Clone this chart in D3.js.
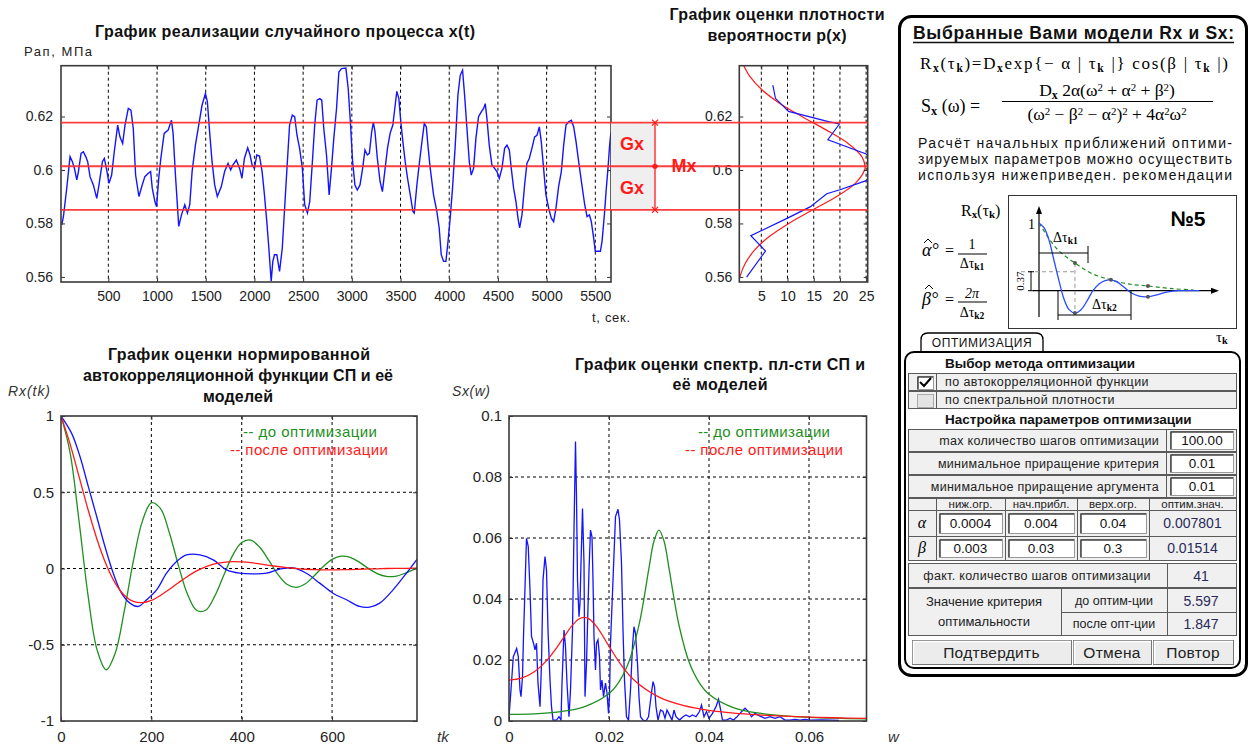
<!DOCTYPE html>
<html><head><meta charset="utf-8">
<script src="https://cdn.jsdelivr.net/npm/d3@7"></script>
<style>body{margin:0;background:#fff}svg{display:block}</style>
</head><body>
<svg id="c" width="1256" height="754"></svg>
<script>
// ================= DATA =================
// realization x(t)
const tsTime = [22,39,73,107,131,152,176,193,220,244,268,288,312,346,381,404,439,459,483,507,534,561,596,619,647,671,705,732,756,780,814,848,875,910,934,951,978,995,1019,1039,1073,1114,1148,1165,1189,1223,1251,1285,1312,1336,1360,1394,1428,1462,1497,1517,1541,1565,1592,1619,1660,1694,1729,1756,1780,1814,1848,1872,1897,1931,1955,1976,2000,2024,2052,2079,2103,2127,2148,2172,2189,2206,2230,2258,2286,2310,2334,2361,2389,2413,2437,2464,2492,2516,2544,2568,2595,2619,2643,2671,2691,2712,2740,2767,2791,2815,2843,2867,2894,2939,2963,2987,3008,3032,3056,3084,3111,3135,3159,3180,3204,3221,3238,3262,3290,3314,3342,3366,3393,3421,3445,3462,3483,3503,3524,3548,3572,3600,3627,3641,3668,3695,3720,3744,3765,3781,3805,3839,3873,3897,3918,3942,3966,3986,4010,4034,4062,4089,4113,4137,4158,4182,4206,4226,4250,4274,4301,4329,4353,4370,4387,4411,4438,4466,4490,4514,4541,4569,4593,4617,4637,4661,4685,4706,4723,4747,4774,4798,4822,4849,4877,4901,4925,4945,4969,4993,5021,5048,5072,5096,5123,5151,5175,5199,5226,5254,5278,5302,5329,5357,5391,5415,5439,5459,5483,5500,5528,5552,5569,5593,5613,5630,5647,5660];
const tsValue = [0.5795,0.5826,0.5932,0.605,0.6031,0.6006,0.5963,0.5994,0.6062,0.6068,0.605,0.6031,0.5975,0.5944,0.5894,0.5944,0.6031,0.6043,0.6,0.595,0.5981,0.6068,0.6168,0.6124,0.6099,0.6168,0.623,0.6224,0.6155,0.5981,0.5901,0.5944,0.5975,0.5988,0.5994,0.5932,0.5882,0.5863,0.5975,0.6043,0.6137,0.6149,0.6186,0.6137,0.5981,0.5789,0.5832,0.587,0.5839,0.587,0.5994,0.6093,0.6168,0.6242,0.6286,0.6255,0.6137,0.6031,0.5944,0.5901,0.5938,0.5994,0.6025,0.6,0.6019,0.6037,0.6006,0.5969,0.6043,0.6083,0.6056,0.6019,0.6006,0.6056,0.6052,0.5994,0.5907,0.5807,0.5708,0.5584,0.5658,0.5683,0.5683,0.5621,0.5708,0.5857,0.6006,0.6168,0.6205,0.6199,0.613,0.6081,0.6006,0.587,0.5839,0.5882,0.6031,0.6168,0.6261,0.6267,0.6261,0.6155,0.6056,0.5907,0.6006,0.6118,0.623,0.6366,0.6379,0.6381,0.6304,0.6168,0.6031,0.5944,0.5925,0.5944,0.6006,0.6075,0.6056,0.6062,0.6143,0.6178,0.6143,0.6043,0.5957,0.5919,0.6006,0.6081,0.6137,0.6168,0.6242,0.6294,0.6267,0.618,0.6106,0.6031,0.5969,0.5907,0.5845,0.5839,0.5944,0.6031,0.6106,0.6174,0.6161,0.6093,0.6006,0.5907,0.5845,0.5783,0.5683,0.5658,0.5658,0.5727,0.582,0.5932,0.6093,0.6279,0.6354,0.6373,0.6279,0.6155,0.6031,0.5981,0.6006,0.6118,0.6199,0.6217,0.623,0.6248,0.6193,0.6093,0.6019,0.6006,0.5994,0.5969,0.6006,0.6081,0.6093,0.6075,0.6006,0.5932,0.5882,0.582,0.5783,0.5832,0.5944,0.6025,0.6043,0.6081,0.6124,0.613,0.6161,0.6106,0.6006,0.5907,0.5857,0.582,0.5807,0.5857,0.5938,0.5994,0.6093,0.6168,0.618,0.6186,0.6161,0.6106,0.6031,0.5957,0.587,0.5826,0.5832,0.5807,0.5745,0.5696,0.5696,0.5696,0.5733,0.5832,0.5932,0.6006,0.6093,0.614];
const tsXTicks = [500,1000,1500,2000,2500,3000,3500,4000,4500,5000,5500];
const tsYTicks = [0.56,0.58,0.6,0.62];
const Mx = 0.6014, Gx = 0.0163;

// density p(x): empirical (blue) and model (red)
const densEmpLevel = [0.6317,0.6268,0.6219,0.6181,0.6172,0.6113,0.606,0.601,0.5960,0.5926,0.5911,0.5862,0.5818,0.5754,0.5697,0.5599];
const densEmpValue = [7.2,7.7,10.2,17.8,19.9,17.7,25.0,27.0,25.0,20.0,17.5,14.3,9.8,3.0,5.8,2.2];
const densModLevel = [0.556,0.560,0.565,0.570,0.575,0.580,0.585,0.590,0.595,0.600,0.6014,0.605,0.610,0.615,0.620,0.625,0.630,0.635,0.640];
const densModValue = [0.47,0.91,1.92,3.70,6.46,10.25,14.76,19.30,22.92,24.71,24.8,24.18,21.50,17.35,12.73,8.47,5.12,2.81,1.40];
const densXTicks = [5,10,15,20,25];

// autocorrelation
const acfEmpLag = [0,23.6,42,60.5,79,97.3,115.7,134,152.6,171,189.5,211.6,233.7,255.8,278,307.4,337,366.4,396,425.3,455,484.3,513.8,543,572.7,602,631.8,661,683.3,705.5,735,764.5,788];
const acfEmp = [1,0.886,0.734,0.537,0.341,0.144,-0.031,-0.162,-0.227,-0.249,-0.205,-0.140,-0.031,0.046,0.0895,0.0895,0.057,-0.009,-0.031,-0.035,-0.031,-0.004,0.004,-0.031,-0.096,-0.162,-0.205,-0.249,-0.253,-0.227,-0.140,-0.031,0.06];
const acfModLag = [0,20,40,60,80,100,120,140,160,180,200,220,240,260,280,300,320,340,360,380,400,420,440,460,480,500,520,540,560,580,600,620,640,660,680,700,720,740,760,780,788];
const acfBefore = [1,0.762,0.309,-0.179,-0.535,-0.664,-0.555,-0.280,0.046,0.309,0.431,0.394,0.233,0.019,-0.169,-0.274,-0.274,-0.183,-0.046,0.086,0.170,0.186,0.139,0.053,-0.038,-0.103,-0.124,-0.102,-0.049,0.012,0.060,0.081,0.073,0.042,0.001,-0.033,-0.052,-0.051,-0.033,-0.007,0.003];
const acfAfter = [1,0.817,0.602,0.385,0.189,0.026,-0.096,-0.175,-0.216,-0.224,-0.209,-0.177,-0.136,-0.093,-0.052,-0.016,0.011,0.030,0.040,0.045,0.043,0.038,0.030,0.021,0.013,0.006,0.000,-0.005,-0.007,-0.009,-0.009,-0.008,-0.007,-0.005,-0.003,-0.002,0.000,0.001,0.001,0.002,0.002];
const acfXTicks = [0,200,400,600];
const acfYTicks = [-1,-0.5,0,0.5,1];

// spectral density
const specW = [0,0.0004,0.00086,0.00153,0.00186,0.0022,0.0024,0.0027,0.0029,0.0035,0.00385,0.0042,0.0045,0.0049,0.0052,0.0055,0.0058,0.0062,0.0065,0.0068,0.0072,0.0075,0.0078,0.0082,0.0085,0.0088,0.0095,0.0100,0.0104,0.0106,0.011,0.0113,0.0116,0.012,0.0123,0.0127,0.013,0.0133,0.0135,0.0137,0.014,0.0142,0.0144,0.0147,0.015,0.0152,0.0155,0.016,0.0163,0.0166,0.0168,0.017,0.0173,0.0175,0.0178,0.0181,0.0183,0.0186,0.0189,0.0193,0.0196,0.0199,0.0201,0.0203,0.0208,0.0213,0.0218,0.0221,0.0225,0.0228,0.0231,0.0235,0.0239,0.0243,0.0247,0.025,0.0253,0.0257,0.026,0.0263,0.0268,0.0274,0.0279,0.0284,0.0288,0.0291,0.0294,0.0298,0.0303,0.0308,0.0312,0.0316,0.0321,0.0326,0.033,0.0334,0.0341,0.0348,0.0354,0.0361,0.0367,0.0374,0.0381,0.0385,0.039,0.0395,0.04,0.0407,0.0414,0.0419,0.0422,0.0427,0.0435,0.0442,0.0449,0.0455,0.0462,0.0472,0.0479,0.0485,0.0492,0.0502,0.0512,0.0522,0.0532,0.0542,0.0552,0.0562,0.0572,0.0582,0.0592,0.0602,0.0625,0.0645,0.066];
const specEmp = [0.0014,0.0102,0.0211,0.0238,0.0211,0.0102,0.008,0.0145,0.0277,0.0599,0.0572,0.043,0.0277,0.0255,0.0233,0.0255,0.0124,0.0047,0.0189,0.0462,0.0539,0.0495,0.0298,0.0134,0.0047,0.0003,0.0003,0.0014,0.0003,0.0124,0.0298,0.0244,0.0124,0.0014,0.0102,0.0298,0.0626,0.0916,0.0736,0.0462,0.0342,0.0386,0.0517,0.0697,0.0517,0.008,0.0189,0.0495,0.0626,0.0604,0.0462,0.0277,0.0167,0.0255,0.0266,0.0211,0.0102,0.0134,0.008,0.0124,0.0091,0.0025,0.008,0.0255,0.0462,0.067,0.0694,0.0659,0.0517,0.0298,0.0134,0.0014,0.0003,0.0102,0.0244,0.0309,0.0287,0.0189,0.008,0.0014,0.0003,0,0.0014,0.008,0.0129,0.0113,0.0047,0.0003,0.0036,0.0031,0.0009,0.0036,0.002,0.0003,0.0036,0.0014,0.0003,0.0014,0.002,0.0014,0.002,0.0014,0.0031,0.0052,0.0014,0.0031,0.0009,0.0025,0.0047,0.0071,0.0047,0.0003,0.0003,0.0009,0.0003,0.0012,0.0025,0.0042,0.0031,0.0014,0.0025,0.0016,0.0009,0.0014,0.0009,0.0014,0.0003,0.0003,0.0005,0.0003,0.0005,0.0003,0.0004,0.0003,0.0002];
const specBeforeW = [0,0.005,0.01,0.015,0.02,0.022,0.024,0.026,0.027,0.028,0.029,0.03,0.031,0.032,0.033,0.034,0.036,0.038,0.04,0.045,0.05,0.055,0.06,0.065,0.0715];
const specBefore = [0.00218,0.00236,0.00301,0.00463,0.0090,0.01284,0.0195,0.0315,0.0402,0.0502,0.0590,0.0626,0.0590,0.0501,0.0402,0.0314,0.0194,0.01269,0.0088,0.00432,0.00255,0.00169,0.00121,0.00091,0.00067];
const specAfterW = [0,0.0025,0.005,0.0075,0.01,0.0125,0.014,0.015,0.016,0.0175,0.02,0.0225,0.025,0.03,0.035,0.04,0.045,0.05,0.055,0.06,0.065,0.0715];
const specAfter = [0.01341,0.01405,0.01606,0.01979,0.02510,0.03105,0.03344,0.03397,0.03347,0.03101,0.02453,0.01823,0.01347,0.00783,0.00503,0.00349,0.00257,0.00198,0.00157,0.00128,0.00106,0.00086];
const specXTicks = [0,0.02,0.04,0.06];
const specYTicks = [0,0.02,0.04,0.06,0.08,0.1];

// schematic R(τ) sketch in the side panel (normalised units)
const sketchTau = [0,0.028,0.056,0.084,0.112,0.14,0.169,0.202,0.236,0.27,0.303,0.337,0.371,0.404,0.438,0.478,0.517,0.562,0.612,0.663,0.719,0.787,0.9];
const sketchR = [1,0.93,0.75,0.45,0.15,-0.12,-0.28,-0.33,-0.28,-0.15,0,0.1,0.15,0.16,0.13,0.05,-0.03,-0.08,-0.09,-0.06,-0.02,0,0];
const envTau = [0,0.1,0.202,0.3,0.404,0.5,0.612,0.75,0.87];
const envR = [1,0.62,0.41,0.25,0.16,0.1,0.07,0.03,0.01];

// ================= DRAWING =================
const F = 'Arial, "Liberation Sans", sans-serif';
const SERIF = '"Liberation Serif","DejaVu Serif","Times New Roman",serif';
const BLUE = '#1414ff', RED = '#ff1a1a', GREEN = '#1f8f1f';
const svg = d3.select('#c');
const defs = svg.append('defs');

function txt(g, x, y, s, o = {}) {
  const t = g.append('text').attr('x', x).attr('y', y).text(s)
    .attr('font-family', o.family || F).attr('font-size', o.size || 13)
    .attr('fill', o.fill || '#000');
  if (o.anchor) t.attr('text-anchor', o.anchor);
  if (o.weight) t.attr('font-weight', o.weight);
  if (o.style) t.attr('font-style', o.style);
  if (o.len) t.attr('textLength', o.len).attr('lengthAdjust', o.adj || 'spacing');
  if (o.ls) t.attr('letter-spacing', o.ls);
  return t;
}
function rich(g, x, y, segs, size, o = {}) {
  const t = g.append('text').attr('x', x).attr('y', y)
    .attr('font-family', o.family || SERIF).attr('font-size', size).attr('fill', '#000');
  if (o.anchor) t.attr('text-anchor', o.anchor);
  if (o.len) t.attr('textLength', o.len).attr('lengthAdjust', 'spacing');
  segs.forEach(([s, m]) => {
    const sp = t.append('tspan').text(s);
    if (m === 'sub') sp.attr('baseline-shift', '-22%').attr('font-size', size * 0.68).attr('font-weight', 'bold');
    else if (m === 'sup') sp.attr('baseline-shift', '45%').attr('font-size', size * 0.62);
  });
  return t;
}
function line(g, x1, y1, x2, y2, stroke, w, dash) {
  const l = g.append('line').attr('x1', x1).attr('y1', y1).attr('x2', x2).attr('y2', y2)
    .attr('stroke', stroke).attr('stroke-width', w || 1);
  if (dash) l.attr('stroke-dasharray', dash);
  return l;
}
let clipN = 0;
function plotArea(x, y) {
  const [x0, x1] = x.range(), [yb, yt] = y.range();
  const id = 'clip' + (clipN++);
  defs.append('clipPath').attr('id', id).append('rect')
    .attr('x', x0).attr('y', yt).attr('width', x1 - x0).attr('height', yb - yt);
  return svg.append('g').attr('clip-path', `url(#${id})`);
}
function styleAxis(size) {
  return g => {
    g.select('.domain').remove();
    g.selectAll('.tick line').attr('stroke', '#333');
    g.selectAll('.tick text').attr('font-family', F).attr('font-size', size).attr('fill', '#222');
  };
}
function axes(x, y, xt, yt, fx, fy, padX, padY, size) {
  const [x0, x1] = x.range(), [yb, yt0] = y.range();
  const tk = 4, st = styleAxis(size || 14);
  svg.append('g').attr('transform', `translate(0,${yb})`)
    .call(d3.axisBottom(x).tickValues(xt).tickSizeInner(-tk).tickSizeOuter(0).tickPadding(padX).tickFormat(fx)).call(st);
  svg.append('g').attr('transform', `translate(0,${yt0})`)
    .call(d3.axisTop(x).tickValues(xt).tickSizeInner(-tk).tickSizeOuter(0).tickFormat('')).call(st);
  svg.append('g').attr('transform', `translate(${x0},0)`)
    .call(d3.axisLeft(y).tickValues(yt).tickSizeInner(-tk).tickSizeOuter(0).tickPadding(padY).tickFormat(fy)).call(st);
  svg.append('g').attr('transform', `translate(${x1},0)`)
    .call(d3.axisRight(y).tickValues(yt).tickSizeInner(-tk).tickSizeOuter(0).tickFormat('')).call(st);
}
function frame(x, y) {
  const [x0, x1] = x.range(), [yb, yt] = y.range();
  svg.append('rect').attr('x', x0).attr('y', yt).attr('width', x1 - x0).attr('height', yb - yt)
    .attr('fill', 'none').attr('stroke', '#3a3a3a').attr('stroke-width', 1.6);
}
const num = d => String(+(+d).toFixed(3));
const title = (x, y, s, len) => txt(svg, x, y, s, { size: 16, weight: 'bold', anchor: 'middle', fill: '#111', len });

// ---------- Top-left: realization ----------
const xT = d3.scaleLinear().domain([14, 5661]).range([61, 611]);
const yT = d3.scaleLinear().domain([0.5581, 0.6390]).range([282, 65.7]);
{
  const g = plotArea(xT, yT);
  tsXTicks.forEach(t => line(g, xT(t), 65.7, xT(t), 282, '#000', 1, '3,3'));
  g.append('path').datum(tsTime.map((t, i) => [t, tsValue[i]]))
    .attr('fill', 'none').attr('stroke', BLUE).attr('stroke-width', 1.4)
    .attr('d', d3.line().x(d => xT(d[0])).y(d => yT(d[1])));
  axes(xT, yT, tsXTicks, tsYTicks, d3.format('d'), num, 9, 8, 14);
  frame(xT, yT);
  title(285, 37, 'График реализации случайного процесса x(t)', 380);
  txt(svg, 24, 56, 'Рап,  МПа', { size: 13, fill: '#222', len: 68 });
  txt(svg, 592, 322, 't, сек.', { size: 13, fill: '#222', len: 38 });
}

// ---------- Top-right: density ----------
const xD = d3.scaleLinear().domain([0.8, 25.3]).range([739.3, 867.7]);
const yD = yT.copy();
{
  const g = plotArea(xD, yD);
  densXTicks.forEach(t => line(g, xD(t), 65.7, xD(t), 282, '#000', 1, '3,3'));
  g.append('path').datum(densModLevel.map((l, i) => [densModValue[i], l]))
    .attr('fill', 'none').attr('stroke', RED).attr('stroke-width', 1.2)
    .attr('d', d3.line().curve(d3.curveCatmullRom).x(d => xD(d[0])).y(d => yD(d[1])));
  g.append('path').datum(densEmpLevel.map((l, i) => [densEmpValue[i], l]))
    .attr('fill', 'none').attr('stroke', BLUE).attr('stroke-width', 1.2)
    .attr('d', d3.line().x(d => xD(d[0])).y(d => yD(d[1])));
  axes(xD, yD, densXTicks, tsYTicks, d3.format('d'), num, 9, 7, 14);
  frame(xD, yD);
  title(777, 20, 'График оценки плотности', 215);
  title(777, 41, 'вероятности p(x)', 139);
}

// ---------- Mx / Gx markers ----------
{
  const yU = yT(Mx + Gx), yM = yT(Mx), yL = yT(Mx - Gx);
  const xs = xT.range()[1], xv = 655;
  svg.append('rect').attr('x', xs).attr('y', yU).attr('width', xv - xs).attr('height', yL - yU).attr('fill', '#efefef');
  [yU, yM, yL].forEach(yy => line(svg, 61, yy, 867.7, yy, '#ff2a2a', 1.8).attr('opacity', 0.9));
  line(svg, xv, yU, xv, yL, RED, 1.3);
  [yU, yL].forEach(yy => {
    line(svg, xv - 3, yy - 3, xv + 3, yy + 3, RED, 1.2);
    line(svg, xv - 3, yy + 3, xv + 3, yy - 3, RED, 1.2);
  });
  svg.append('circle').attr('cx', xv).attr('cy', yM).attr('r', 2.6).attr('fill', RED);
  txt(svg, 632, (yU + yM) / 2 + 6, 'Gx', { size: 18, weight: 'bold', anchor: 'middle', fill: RED });
  txt(svg, 632, (yM + yL) / 2 + 6, 'Gx', { size: 18, weight: 'bold', anchor: 'middle', fill: RED });
  txt(svg, 684, yM + 6, 'Mx', { size: 18, weight: 'bold', anchor: 'middle', fill: RED });
}

// ---------- Bottom-left: ACF ----------
const xA = d3.scaleLinear().domain([0, 788]).range([61, 417]);
const yA = d3.scaleLinear().domain([-1, 1]).range([721, 416]);
{
  const g = plotArea(xA, yA);
  acfXTicks.slice(1).forEach(t => line(g, xA(t), 416, xA(t), 721, '#000', 1, '3,3'));
  [-0.5, 0, 0.5].forEach(v => line(g, 61, yA(v), 417, yA(v), '#000', 1, '3,3'));
  const ln = d3.line().curve(d3.curveCatmullRom).x(d => xA(d[0])).y(d => yA(d[1]));
  g.append('path').datum(acfModLag.map((l, i) => [l, acfBefore[i]])).attr('fill', 'none').attr('stroke', GREEN).attr('stroke-width', 1.3).attr('d', ln);
  g.append('path').datum(acfEmpLag.map((l, i) => [l, acfEmp[i]])).attr('fill', 'none').attr('stroke', BLUE).attr('stroke-width', 1.3).attr('d', ln);
  g.append('path').datum(acfModLag.map((l, i) => [l, acfAfter[i]])).attr('fill', 'none').attr('stroke', RED).attr('stroke-width', 1.3).attr('d', ln);
  axes(xA, yA, acfXTicks, acfYTicks, d3.format('d'), num, 10, 7, 15);
  frame(xA, yA);
  title(239, 360, 'График оценки нормированной', 262);
  title(238, 381, 'автокорреляционной функции СП и её', 310);
  title(238, 402, 'моделей', 70);
  txt(svg, 8, 396, 'Rx(tk)', { size: 14, style: 'italic', fill: '#333', len: 42 });
  txt(svg, 437, 742, 'tk', { size: 15, style: 'italic', fill: '#333' });
  txt(svg, 243, 437, '-- до оптимизации', { size: 15, fill: GREEN, len: 134 });
  txt(svg, 230, 455, '-- после оптимизации', { size: 15, fill: RED, len: 158 });
}

// ---------- Bottom-middle: spectrum ----------
const xS = d3.scaleLinear().domain([0, 0.0715]).range([509, 866.5]);
const yS = d3.scaleLinear().domain([0, 0.1]).range([721, 416]);
{
  const g = plotArea(xS, yS);
  specXTicks.slice(1).forEach(t => line(g, xS(t), 416, xS(t), 721, '#000', 1, '3,3'));
  specYTicks.slice(1, -1).forEach(v => line(g, 509, yS(v), 866.5, yS(v), '#000', 1, '3,3'));
  const lnS = d3.line().curve(d3.curveCatmullRom).x(d => xS(d[0])).y(d => yS(d[1]));
  g.append('path').datum(specW.map((w, i) => [w, specEmp[i]])).attr('fill', 'none').attr('stroke', BLUE).attr('stroke-width', 1.3)
    .attr('d', d3.line().x(d => xS(d[0])).y(d => yS(d[1])));
  g.append('path').datum(specBeforeW.map((w, i) => [w, specBefore[i]])).attr('fill', 'none').attr('stroke', GREEN).attr('stroke-width', 1.3).attr('d', lnS);
  g.append('path').datum(specAfterW.map((w, i) => [w, specAfter[i]])).attr('fill', 'none').attr('stroke', RED).attr('stroke-width', 1.3).attr('d', lnS);
  axes(xS, yS, specXTicks, specYTicks, num, num, 10, 7, 15);
  frame(xS, yS);
  title(720, 370, 'График оценки спектр. пл-сти СП и', 290);
  title(720, 390, 'её моделей', 95);
  txt(svg, 452, 396, 'Sx(w)', { size: 14, style: 'italic', fill: '#333', len: 38 });
  txt(svg, 888, 742, 'w', { size: 15, style: 'italic', fill: '#333' });
  txt(svg, 698, 437, '-- до оптимизации', { size: 15, fill: GREEN, len: 132 });
  txt(svg, 685, 455, '-- после оптимизации', { size: 15, fill: RED, len: 158 });
}

// ---------- Right panel ----------
{
  const P = svg.append('g');
  P.append('rect').attr('x', 899.5).attr('y', 16.5).attr('width', 347).attr('height', 659).attr('rx', 12)
    .attr('fill', '#fff').attr('stroke', '#000').attr('stroke-width', 3);
  txt(P, 913, 39, 'Выбранные Вами модели Rx и Sx:', { size: 17.5, weight: 'bold', len: 321, fill: '#111' });
  line(P, 913, 42.5, 1234, 42.5, '#111', 1.5);

  rich(P, 920, 69, [['R', ''], ['x', 'sub'], ['(τ', ''], ['k', 'sub'], [')=D', ''], ['x', 'sub'], ['exp{− α | τ', ''], ['k', 'sub'], [' |} cos(β | τ', ''], ['k', 'sub'], [' |)', '']], 17, { len: 308 });
  rich(P, 921, 112, [['S', ''], ['x', 'sub'], [' (ω) =', '']], 18);
  rich(P, 1107, 96, [['D', ''], ['x', 'sub'], [' 2α(ω', ''], ['2', 'sup'], [' + α', ''], ['2', 'sup'], [' + β', ''], ['2', 'sup'], [')', '']], 17.5, { anchor: 'middle' });
  line(P, 1002, 101.5, 1213, 101.5, '#000', 1);
  rich(P, 1107, 120, [['(ω', ''], ['2', 'sup'], [' − β', ''], ['2', 'sup'], [' − α', ''], ['2', 'sup'], [')', ''], ['2', 'sup'], [' + 4α', ''], ['2', 'sup'], ['ω', ''], ['2', 'sup']], 17.5, { anchor: 'middle' });

  txt(P, 918, 148, 'Расчёт начальных приближений оптими-', { size: 14, len: 314, fill: '#111' });
  txt(P, 918, 164, 'зируемых параметров можно осуществить', { size: 14, len: 314, fill: '#111' });
  txt(P, 918, 180, 'используя  нижеприведен. рекомендации', { size: 14, len: 314, fill: '#111' });

  // sketch
  P.append('rect').attr('x', 1008.5).attr('y', 195.5).attr('width', 228).attr('height', 133).attr('fill', '#fff').attr('stroke', '#333').attr('stroke-width', 1);
  const mx = d3.scaleLinear().domain([0, 1]).range([1039, 1217]);
  const my = d3.scaleLinear().domain([0, 1]).range([290.7, 223]);
  line(P, 1033, my(0), 1214, my(0), '#000', 1.2);
  P.append('path').attr('d', `M1219,${my(0)} l-8,-3 l0,6 z`).attr('fill', '#000');
  line(P, mx(0), 317, mx(0), 212, '#000', 1.2);
  P.append('path').attr('d', `M${mx(0)},206 l-3,8 l6,0 z`).attr('fill', '#000');
  line(P, mx(0.202), my(0.41), mx(0.202), my(-0.33), '#999', 1, '4,3');
  line(P, 1021, my(0.28), mx(0.202), my(0.28), '#999', 1, '4,3');
  P.append('path').datum(envTau.map((t, i) => [t, envR[i]])).attr('fill', 'none').attr('stroke', GREEN).attr('stroke-width', 1.2).attr('stroke-dasharray', '4,3')
    .attr('d', d3.line().curve(d3.curveCatmullRom).x(d => mx(d[0])).y(d => my(d[1])));
  P.append('path').datum(sketchTau.map((t, i) => [t, sketchR[i]])).attr('fill', 'none').attr('stroke', '#2a4cff').attr('stroke-width', 1.3)
    .attr('d', d3.line().curve(d3.curveCatmullRom).x(d => mx(d[0])).y(d => my(d[1])));
  [[0.202, 0.41], [0.202, -0.33], [0.404, 0.16], [0.612, 0.07], [0.612, -0.09]].forEach(([t, r]) =>
    P.append('circle').attr('cx', mx(t)).attr('cy', my(r)).attr('r', 2).attr('fill', '#555'));
  line(P, mx(0), 253, 1088, 253, '#000', 1);
  line(P, 1088, 246, 1088, 263, '#000', 1);
  rich(P, 1053, 242, [['Δτ', ''], ['k1', 'sub']], 14);
  line(P, 1058, 315, 1131, 315, '#000', 1);
  line(P, 1058, my(0), 1058, 320, '#000', 1);
  line(P, 1131, my(0), 1131, 320, '#000', 1);
  rich(P, 1092, 309, [['Δτ', ''], ['k2', 'sub']], 14);
  line(P, 1031, my(0.28), 1031, my(0), '#000', 1);
  line(P, 1028, my(0.28), 1034, my(0.28), '#000', 1);
  line(P, 1028, my(0), 1034, my(0), '#000', 1);
  txt(P, 0, 0, '0.37', { size: 11, family: SERIF, anchor: 'middle' }).attr('transform', `translate(1024,${(my(0.28) + my(0)) / 2}) rotate(-90)`);
  txt(P, 1035, 229, '1', { size: 14, family: SERIF, anchor: 'end' });
  txt(P, 1188, 226, '№5', { size: 21, weight: 'bold', anchor: 'middle' });

  rich(P, 961, 216, [['R', ''], ['x', 'sub'], ['(τ', ''], ['k', 'sub'], [')', '']], 16);
  // α̂° and β̂°: symbol with a drawn hat and a degree mark
  txt(P, 922, 256, 'α°', { size: 18, family: SERIF, style: 'italic' });
  P.append('path').attr('d', 'M924,243 l4,-4 l4,4').attr('fill', 'none').attr('stroke', '#000').attr('stroke-width', 1);
  txt(P, 945, 256, '=', { size: 16, family: SERIF });
  txt(P, 972, 249, '1', { size: 14, family: SERIF, anchor: 'middle' });
  line(P, 958, 254, 987, 254, '#000', 1);
  rich(P, 972, 268, [['Δτ', ''], ['k1', 'sub']], 14, { anchor: 'middle' });
  txt(P, 922, 305, 'β°', { size: 18, family: SERIF, style: 'italic' });
  P.append('path').attr('d', 'M925,289 l4,-4 l4,4').attr('fill', 'none').attr('stroke', '#000').attr('stroke-width', 1);
  txt(P, 945, 305, '=', { size: 16, family: SERIF });
  txt(P, 972, 298, '2π', { size: 14, family: SERIF, anchor: 'middle', style: 'italic' });
  line(P, 958, 302, 987, 302, '#000', 1);
  rich(P, 972, 317, [['Δτ', ''], ['k2', 'sub']], 14, { anchor: 'middle' });
  rich(P, 1216, 342, [['τ', ''], ['k', 'sub']], 15);

  // optimisation sub-panel
  P.append('path').attr('d', 'M921,352 L921,340 Q921,333 928,333 L1036,333 Q1043,333 1043,340 L1043,352')
    .attr('fill', '#fff').attr('stroke', '#000').attr('stroke-width', 1.3);
  txt(P, 982, 347, 'ОПТИМИЗАЦИЯ', { size: 12, anchor: 'middle', ls: 0.6, fill: '#111' });
  P.append('rect').attr('x', 905).attr('y', 352).attr('width', 335).attr('height', 316).attr('rx', 9)
    .attr('fill', 'none').attr('stroke', '#000').attr('stroke-width', 2);

  const CELL = '#f0f0f0', BORD = '#5a5a5a', VAL = '#2a2a5a';
  function cell(x, y, w, h) {
    P.append('rect').attr('x', x + 0.5).attr('y', y + 0.5).attr('width', w).attr('height', h)
      .attr('fill', CELL).attr('stroke', BORD).attr('stroke-width', 1);
  }
  function box(x, y, w, h) {
    P.append('rect').attr('x', x + 0.5).attr('y', y + 0.5).attr('width', w).attr('height', h).attr('fill', '#fff').attr('stroke', '#999');
    line(P, x + 1, y + 1, x + w, y + 1, '#444', 1.5);
    line(P, x + 1, y + 1, x + 1, y + h, '#444', 1.5);
  }
  txt(P, 945, 368, 'Выбор метода оптимизации', { size: 13.5, weight: 'bold', fill: '#111' });
  cell(908, 373, 28, 17); cell(936, 373, 300, 17);
  cell(908, 391, 28, 17); cell(936, 391, 300, 17);
  box(917, 376, 16, 13);
  P.append('path').attr('d', 'M920,382 L924,386 L931,378').attr('fill', 'none').attr('stroke', '#000').attr('stroke-width', 2);
  P.append('rect').attr('x', 917.5).attr('y', 394.5).attr('width', 16).attr('height', 13).attr('fill', '#e4e4e4').attr('stroke', '#aaa');
  txt(P, 945, 386, 'по автокорреляционной функции', { size: 12.5, fill: '#222', ls: 0.4 });
  txt(P, 945, 404, 'по спектральной плотности', { size: 12.5, fill: '#222', ls: 0.4 });

  txt(P, 945, 424, 'Настройка параметров оптимизации', { size: 13.5, weight: 'bold', fill: '#111' });
  const params = [['max количество шагов оптимизации', '100.00', 429], ['минимальное приращение критерия', '0.01', 452], ['минимальное приращение аргумента', '0.01', 475]];
  params.forEach(([lab, v, y]) => {
    cell(908, y, 258, 22); cell(1166, y, 70, 22);
    box(1170, y + 2, 63, 18);
    txt(P, 1159, y + 16, lab, { size: 12.5, anchor: 'end', fill: '#222', ls: 0.3 });
    txt(P, 1202, y + 16, v, { size: 13.5, anchor: 'middle', fill: '#111' });
  });
  const cols = [908, 936, 1005, 1077, 1149, 1236];
  const heads = ['', 'ниж.огр.', 'нач.прибл.', 'верх.огр.', 'оптим.знач.'];
  for (let i = 0; i < 5; i++) {
    cell(cols[i], 498, cols[i + 1] - cols[i], 12);
    if (heads[i]) txt(P, (cols[i] + cols[i + 1]) / 2, 508, heads[i], { size: 11.5, anchor: 'middle', fill: '#222' });
  }
  const rows = [['α', ['0.0004', '0.004', '0.04'], '0.007801', 510, 26], ['β', ['0.003', '0.03', '0.3'], '0.01514', 536, 24]];
  rows.forEach(([sym, vals, opt, y, h]) => {
    for (let i = 0; i < 5; i++) cell(cols[i], y, cols[i + 1] - cols[i], h);
    txt(P, 922, y + h / 2 + 5, sym, { size: 16, family: SERIF, anchor: 'middle', style: 'italic' });
    vals.forEach((v, i) => {
      box(cols[i + 1] + 3, y + 3, cols[i + 2] - cols[i + 1] - 6, h - 6);
      txt(P, (cols[i + 1] + cols[i + 2]) / 2, y + h / 2 + 5, v, { size: 13.5, anchor: 'middle', fill: '#111' });
    });
    txt(P, (cols[4] + cols[5]) / 2, y + h / 2 + 5, opt, { size: 14, anchor: 'middle', fill: VAL });
  });
  cell(908, 563, 259, 24); cell(1167, 563, 69, 24);
  txt(P, 1037, 580, 'факт. количество шагов оптимизации', { size: 12.5, anchor: 'middle', fill: '#222', ls: 0.3 });
  txt(P, 1201, 581, '41', { size: 14, anchor: 'middle', fill: VAL });
  cell(908, 588, 153, 47);
  cell(1061, 588, 106, 24); cell(1167, 588, 69, 24);
  cell(1061, 612, 106, 23); cell(1167, 612, 69, 23);
  txt(P, 984, 606, 'Значение критерия', { size: 13, anchor: 'middle', fill: '#222' });
  txt(P, 984, 626, 'оптимальности', { size: 13, anchor: 'middle', fill: '#222' });
  txt(P, 1114, 605, 'до оптим-ции', { size: 12.5, anchor: 'middle', fill: '#222' });
  txt(P, 1114, 628, 'после опт-ции', { size: 12.5, anchor: 'middle', fill: '#222' });
  txt(P, 1201, 606, '5.597', { size: 14, anchor: 'middle', fill: VAL });
  txt(P, 1201, 629, '1.847', { size: 14, anchor: 'middle', fill: VAL });

  const btns = [['Подтвердить', 912, 1071], ['Отмена', 1073, 1151], ['Повтор', 1153, 1233]];
  btns.forEach(([s, a, b]) => {
    P.append('rect').attr('x', a + 0.5).attr('y', 640.5).attr('width', b - a).attr('height', 24).attr('fill', '#ececec').attr('stroke', '#777');
    line(P, a + 1, 641.5, b, 641.5, '#fff', 1.5);
    line(P, a + 1.5, 641, a + 1.5, 664, '#fff', 1.5);
    txt(P, (a + b) / 2, 658, s, { size: 15.5, anchor: 'middle', fill: '#222', ls: 0.3 });
  });
}
</script>
</body></html>
